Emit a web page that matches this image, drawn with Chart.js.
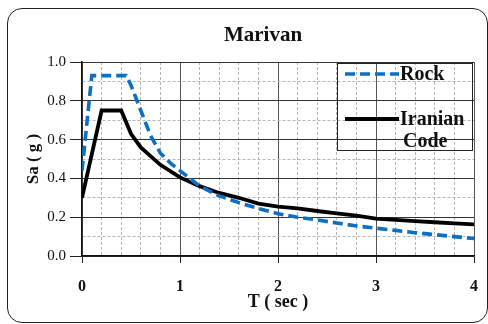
<!DOCTYPE html>
<html lang="en">
<head>
    <meta charset="UTF-8">
    <title>Marivan</title>
    <script src="https://cdn.jsdelivr.net/npm/chart.js"></script>
    <style>
        body {
            margin: 0;
            padding: 0;
            background: #fff;
            overflow: hidden;
        }
        .frame {
            position: absolute;
            left: 7px;
            top: 8px;
            width: 481px;
            height: 315px;
            box-sizing: border-box;
            border: 1.5px solid #222;
            border-radius: 15px;
        }
        .wrap {
            position: absolute;
            left: 0;
            top: 0;
            width: 488px;
            height: 324px;
        }
    </style>
</head>
<body>
<div class="frame"></div>
<div class="wrap"><canvas id="grafico" width="488" height="324"></canvas></div>
<script>
    // periods (sec) and spectral acceleration (g)
    const rockT  = [0, 0.1, 0.45, 0.5, 0.6, 0.7, 0.8, 0.9, 1.0, 1.2, 1.4, 1.6, 1.8, 2.0, 2.2, 2.4, 2.6, 2.8, 3.0, 3.2, 3.4, 3.6, 3.8, 4.0];
    const rockSa = [0.44, 0.93, 0.93, 0.88, 0.75, 0.62, 0.53, 0.48, 0.44, 0.36, 0.31, 0.275, 0.245, 0.218, 0.20, 0.186, 0.17, 0.155, 0.143, 0.132, 0.12, 0.11, 0.10, 0.09];
    const codeT  = [0, 0.2, 0.4, 0.5, 0.6, 0.8, 1.0, 1.2, 1.4, 1.6, 1.8, 2.0, 2.2, 2.4, 2.6, 2.8, 3.0, 3.2, 3.4, 3.6, 3.8, 4.0];
    const codeSa = [0.3, 0.75, 0.75, 0.63, 0.56, 0.47, 0.405, 0.36, 0.325, 0.30, 0.27, 0.255, 0.245, 0.232, 0.22, 0.208, 0.193, 0.186, 0.18, 0.174, 0.168, 0.163];
    const seriesNames = ['Rock', ['Iranian', 'Code']];
    const chartTitle = 'Marivan';
    const xTitle = 'T ( sec )';
    const yTitle = 'Sa ( g )';

    const serif = "'Liberation Serif', 'Times New Roman', serif";

    function isStep(v, n) {
        return Math.abs(v * n - Math.round(v * n)) < 1e-6;
    }

    // title and boxed legend drawn on top of the plot
    const decoPlugin = {
        id: 'deco',
        afterDraw(chart) {
            const ctx = chart.ctx;
            ctx.save();
            ctx.fillStyle = '#111';
            ctx.font = 'bold 21px ' + serif;
            ctx.textAlign = 'center';
            ctx.textBaseline = 'middle';
            ctx.fillText(chartTitle, 263, 36);

            // legend box
            ctx.strokeStyle = '#222';
            ctx.lineWidth = 1;
            ctx.strokeRect(337.5, 63.5, 135, 87);

            const rows = [74, 119];
            chart.data.datasets.forEach((ds, i) => {
                const y = rows[i];
                ctx.beginPath();
                ctx.setLineDash(ds.borderDash || []);
                ctx.strokeStyle = ds.borderColor;
                ctx.lineWidth = ds.borderWidth;
                ctx.moveTo(345, y);
                ctx.lineTo(399, y);
                ctx.stroke();
                ctx.setLineDash([]);
                ctx.fillStyle = '#111';
                ctx.font = 'bold 20px ' + serif;
                ctx.textAlign = 'left';
                const name = seriesNames[i];
                if (Array.isArray(name)) {
                    ctx.fillText(name[0], 400, y + 1);
                    ctx.fillText(name[1], 403, y + 23);
                } else {
                    ctx.fillText(name, 400, y + 1);
                }
            });
            ctx.restore();
        }
    };

    new Chart(document.getElementById('grafico'), {
        type: 'line',
        data: {
            datasets: [{
                label: 'Rock',
                data: rockT.map((t, i) => ({ x: t, y: rockSa[i] })),
                borderColor: '#0B6FC4',
                borderWidth: 3.6,
                borderDash: [10, 5],
                pointRadius: 0,
                tension: 0,
                fill: false
            }, {
                label: 'Iranian Code',
                data: codeT.map((t, i) => ({ x: t, y: codeSa[i] })),
                borderColor: '#000',
                borderWidth: 3.8,
                pointRadius: 0,
                tension: 0,
                fill: false
            }]
        },
        options: {
            responsive: false,
            animation: false,
            events: [],
            layout: { padding: { left: 12, right: 14, top: 62, bottom: 0 } },
            plugins: {
                legend: { display: false },
                title: { display: false },
                tooltip: { enabled: false }
            },
            scales: {
                x: {
                    type: 'linear',
                    min: 0,
                    max: 4,
                    afterFit(scale) {
                        scale.height = 68;
                        scale.paddingLeft = 0;
                        scale.paddingRight = 0;
                    },
                    ticks: {
                        stepSize: 0.2,
                        autoSkip: false,
                        maxRotation: 0,
                        padding: 14,
                        color: '#111',
                        font: { family: serif, size: 16, weight: 'bold' },
                        callback: v => isStep(v, 1) ? String(Math.round(v)) : ''
                    },
                    grid: {
                        color: c => isStep(c.tick.value, 1) ? '#555' : '#b5b5b5',
                        lineWidth: 1,
                        tickLength: 7,
                        tickColor: c => isStep(c.tick.value, 1) ? '#222' : 'rgba(0,0,0,0)'
                    },
                    border: {
                        color: '#111',
                        width: 1.5,
                        dash: c => (c.tick && !isStep(c.tick.value, 1)) ? [3, 2] : []
                    },
                    title: {
                        display: true,
                        text: xTitle,
                        color: '#111',
                        font: { family: serif, size: 18, weight: 'bold' },
                        padding: { top: 0, bottom: 11 }
                    }
                },
                y: {
                    min: 0,
                    max: 1,
                    afterFit(scale) { scale.width = 70; },
                    ticks: {
                        stepSize: 0.1,
                        autoSkip: false,
                        padding: 4,
                        color: '#111',
                        font: { family: serif, size: 15 },
                        callback: v => isStep(v, 5) ? v.toFixed(1) : ''
                    },
                    grid: {
                        color: c => isStep(c.tick.value, 5) ? '#333' : '#b5b5b5',
                        lineWidth: 1,
                        tickLength: 12,
                        tickColor: c => isStep(c.tick.value, 5) ? '#222' : 'rgba(0,0,0,0)'
                    },
                    border: {
                        color: '#111',
                        width: 1.5,
                        dash: c => (c.tick && !isStep(c.tick.value, 5)) ? [3, 2] : []
                    },
                    title: {
                        display: true,
                        text: yTitle,
                        color: '#111',
                        font: { family: serif, size: 17, weight: 'bold' },
                        padding: { top: 11, bottom: 0 }
                    }
                }
            }
        },
        plugins: [decoPlugin]
    });
</script>
</body>
</html>
